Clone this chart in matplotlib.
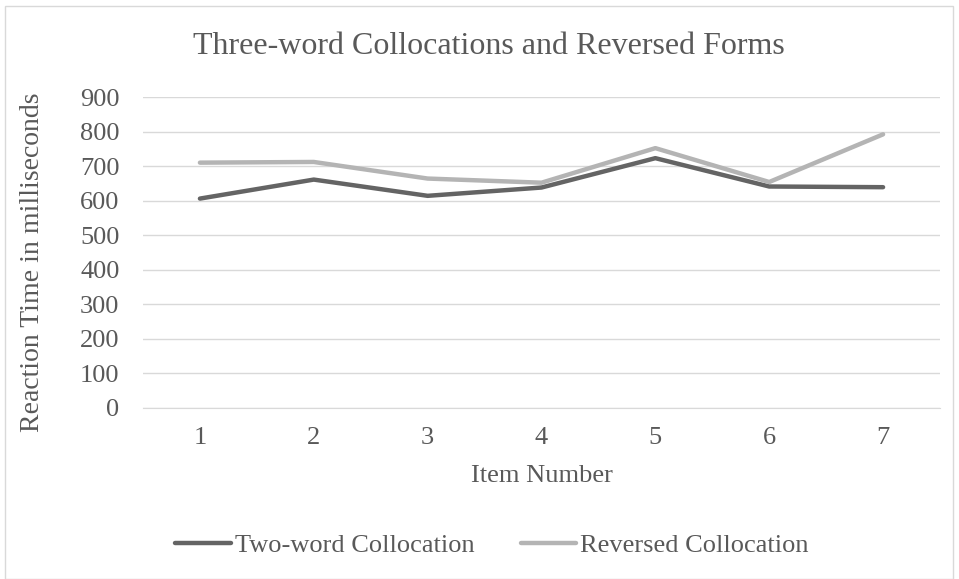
import matplotlib.pyplot as plt
from matplotlib.patches import Rectangle

# Data
items = [1, 2, 3, 4, 5, 6, 7]
two_word = [606, 661, 614, 638, 723, 641, 639]
reversed_form = [710, 712, 664, 652, 752, 654, 792]
y_ticks = [0, 100, 200, 300, 400, 500, 600, 700, 800, 900]

text_color = '#595959'
plt.rcParams['font.family'] = ['Liberation Serif', 'DejaVu Serif']

fig = plt.figure(figsize=(9.59, 5.79), dpi=100)
ax = fig.add_axes([143 / 959, 1 - 408 / 579, (940 - 143) / 959, (408 - 97) / 579])

ax.plot(items, two_word, color='#646464', lw=3.2, solid_capstyle='round',
        solid_joinstyle='round', label='Two-word Collocation')
ax.plot(items, reversed_form, color='#b4b4b4', lw=3.2, solid_capstyle='round',
        solid_joinstyle='round', label='Reversed Collocation')

ax.set_xlim(0.5, 7.5)
ax.set_ylim(0, 900)
ax.set_xticks(items)
ax.set_yticks(y_ticks)
ax.grid(axis='y', color='#d9d9d9', lw=1)
ax.set_axisbelow(True)
for side in ['top', 'right', 'left']:
    ax.spines[side].set_visible(False)
ax.spines['bottom'].set_color('#d9d9d9')
ax.tick_params(length=0, labelsize=19, labelcolor=text_color)
ax.tick_params(axis='x', pad=14)
ax.tick_params(axis='y', pad=17)

ax.set_xlabel('Item Number', fontsize=19, color=text_color, va='center')
ax.xaxis.set_label_coords(0.5, (408 - 476) / 311)
ax.set_ylabel('Reaction Time in milliseconds', fontsize=20, color=text_color, va='center')
ax.yaxis.set_label_coords((33 - 143) / 797, (408 - 262) / 311)

fig.text(489 / 959, 1 - 47 / 579, 'Three-word Collocations and Reversed Forms',
         ha='center', va='center', fontsize=23, color=text_color)

leg = fig.legend(loc='center', bbox_to_anchor=(492 / 959, 1 - 545 / 579), ncol=2,
                 frameon=False, fontsize=19, handlelength=2.1, handletextpad=0.15,
                 columnspacing=1.75)
for t in leg.get_texts():
    t.set_color(text_color)

# light border around chart area
fig.patches.append(Rectangle((5 / 959, 0), 948 / 959, 1 - 6 / 579, transform=fig.transFigure,
                             fill=False, edgecolor='#d9d9d9', lw=1))

fig.savefig('out.png', dpi=100)
